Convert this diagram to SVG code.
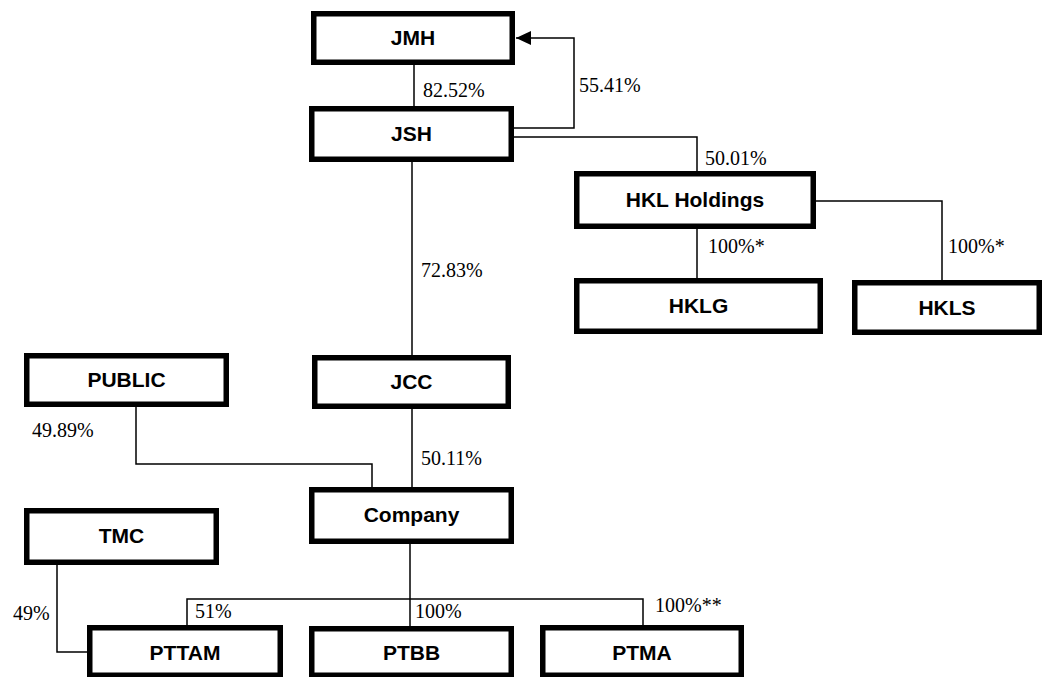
<svg xmlns="http://www.w3.org/2000/svg" width="1044" height="677" viewBox="0 0 1044 677">
<style>
.box{fill:#fff;stroke:#000;stroke-width:5.5}
.nt{font-family:"Liberation Sans",Arial,sans-serif;font-weight:bold;font-size:21px;text-anchor:middle;fill:#000}
.lbl{font-family:"Liberation Serif","Times New Roman",serif;font-size:20px;fill:#000}
.ln{fill:none;stroke:#000;stroke-width:1.5}
</style>
<defs>
<marker id="ah" markerWidth="16" markerHeight="14" refX="15" refY="7" orient="auto" markerUnits="userSpaceOnUse">
<path d="M0,0 L15,7 L0,14 Z" fill="#000"/>
</marker>
</defs>
<rect width="1044" height="677" fill="#fff"/>
<g id="connectors">
<path class="ln" d="M414,65 V106"/>
<path class="ln" d="M514,128 H574 V38 H516" marker-end="url(#ah)"/>
<path class="ln" d="M514,137 H697 V171"/>
<path class="ln" d="M697,229 V278"/>
<path class="ln" d="M816,201 H942 V280"/>
<path class="ln" d="M412,162 V355"/>
<path class="ln" d="M412,409 V487"/>
<path class="ln" d="M136,407 V464 H372 V487"/>
<path class="ln" d="M410,544 V626"/>
<path class="ln" d="M187,625 V599 H643 V625"/>
<path class="ln" d="M57,565 V652 H87"/>
</g>
<g id="labels">
<text class="lbl" x="423" y="97">82.52%</text>
<text class="lbl" x="579" y="92">55.41%</text>
<text class="lbl" x="705" y="165">50.01%</text>
<text class="lbl" x="708" y="253">100%*</text>
<text class="lbl" x="948" y="253">100%*</text>
<text class="lbl" x="421" y="277">72.83%</text>
<text class="lbl" x="32" y="437">49.89%</text>
<text class="lbl" x="421" y="465">50.11%</text>
<text class="lbl" x="13" y="620">49%</text>
<text class="lbl" x="195" y="618">51%</text>
<text class="lbl" x="415" y="618">100%</text>
<text class="lbl" x="655" y="612">100%**</text>
</g>
<g id="JMH"><rect class="box" x="313.75" y="13.75" width="198.5" height="48.5"/><text class="nt" x="413" y="45">JMH</text></g>
<g id="JSH"><rect class="box" x="311.75" y="108.75" width="199.5" height="50.5"/><text class="nt" x="411.5" y="141">JSH</text></g>
<g id="HKL_Holdings"><rect class="box" x="576.75" y="173.75" width="236.5" height="52.5"/><text class="nt" x="695" y="207">HKL Holdings</text></g>
<g id="HKLG"><rect class="box" x="576.75" y="280.75" width="243.5" height="50.5"/><text class="nt" x="698.5" y="313">HKLG</text></g>
<g id="HKLS"><rect class="box" x="854.75" y="282.75" width="184.5" height="49.5"/><text class="nt" x="947" y="315">HKLS</text></g>
<g id="PUBLIC"><rect class="box" x="26.75" y="355.75" width="199.5" height="48.5"/><text class="nt" x="126.5" y="387">PUBLIC</text></g>
<g id="JCC"><rect class="box" x="314.75" y="357.75" width="193.5" height="48.5"/><text class="nt" x="411.5" y="389">JCC</text></g>
<g id="Company"><rect class="box" x="311.75" y="489.75" width="199.5" height="51.5"/><text class="nt" x="411.5" y="522">Company</text></g>
<g id="TMC"><rect class="box" x="26.75" y="510.75" width="189.5" height="51.5"/><text class="nt" x="121.5" y="543">TMC</text></g>
<g id="PTTAM"><rect class="box" x="89.75" y="627.75" width="190.5" height="47.5"/><text class="nt" x="185" y="660">PTTAM</text></g>
<g id="PTBB"><rect class="box" x="311.75" y="628.75" width="199.5" height="46.5"/><text class="nt" x="411.5" y="660">PTBB</text></g>
<g id="PTMA"><rect class="box" x="542.75" y="627.75" width="198.5" height="47.5"/><text class="nt" x="642" y="660">PTMA</text></g>
</svg>
